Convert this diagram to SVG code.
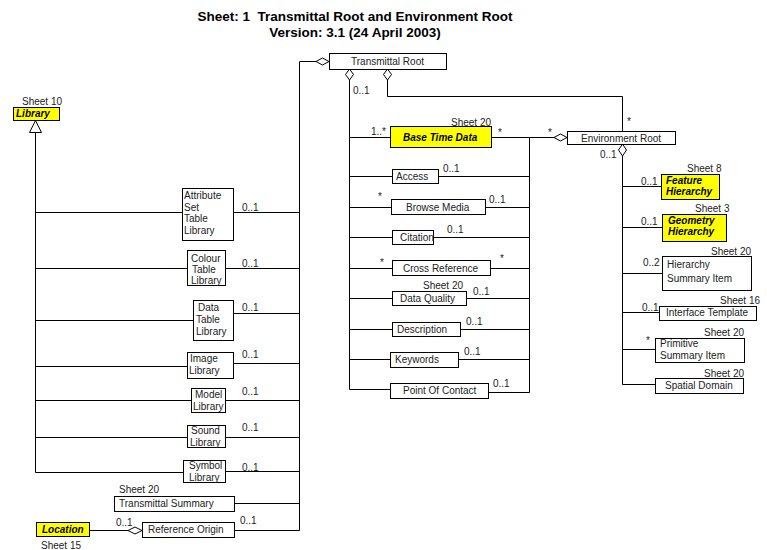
<svg xmlns="http://www.w3.org/2000/svg" width="767" height="550" viewBox="0 0 767 550">
<defs>
<style>
.bg{fill:#fff}
.box{fill:#fff;stroke:#000;stroke-width:1}
.ybox{fill:#ffff00;stroke:#000;stroke-width:1}
.ln{fill:none;stroke:#000;stroke-width:1}
.dia{fill:#fff;stroke:#000;stroke-width:1}
text{font-family:"Liberation Sans",Arial,sans-serif;font-size:10px;fill:#222}
.bi{font-weight:bold;font-style:italic;fill:#000}
.title{font-weight:bold;font-size:13.5px;fill:#000}
</style>
</defs>
<rect class="bg" x="0" y="0" width="767" height="550"/>
<g id="title">
<text class="title" x="355" y="21" text-anchor="middle" xml:space="preserve">Sheet: 1  Transmittal Root and Environment Root</text>
<text class="title" x="355" y="36.5" text-anchor="middle">Version: 3.1 (24 April 2003)</text>
</g>
<g id="connectors">
<!-- Library generalization -->
<path class="ln" d="M35.5,132 V472.5"/>
<polygon class="dia" points="35.5,120.5 41.5,132.5 29.5,132.5"/>
<path class="ln" d="M35.5,212.5 H182 M35.5,268.5 H187 M35.5,320.5 H193 M35.5,366.5 H187 M35.5,400.5 H191 M35.5,437.5 H187 M35.5,472.5 H183"/>
<!-- libraries to transmittal root -->
<path class="ln" d="M233,212.5 H299.5 M225,268.5 H299.5 M233,313.5 H299.5 M233,363.5 H299.5 M225,400.5 H299.5 M225,437.5 H299.5 M225,471.5 H299.5 M234,503.5 H299.5 M234,530.5 H299.5"/>
<path class="ln" d="M299.5,530.5 V61.5 H316"/>
<polygon class="dia" points="316,61.5 322.5,58 329,61.5 322.5,65"/>
<!-- middle composition -->
<polygon class="dia" points="349.5,69 353.5,74.5 349.5,80 345.5,74.5"/>
<path class="ln" d="M349.5,80 V389.5 H390"/>
<path class="ln" d="M349.5,137.5 H390 M349.5,176.5 H392 M349.5,207.5 H391 M349.5,237.5 H392 M349.5,268.5 H392 M349.5,298.5 H392 M349.5,329.5 H392 M349.5,359.5 H390"/>
<path class="ln" d="M492,137.5 H554"/>
<path class="ln" d="M529.5,137.5 V392.5 H489"/>
<path class="ln" d="M439,176.5 H529.5 M486,207.5 H529.5 M434,237.5 H529.5 M491,268.5 H529.5 M467,298.5 H529.5 M461,329.5 H529.5 M459,359.5 H529.5"/>
<!-- transmittal root to environment root -->
<polygon class="dia" points="387.5,69 391.5,74.5 387.5,80 383.5,74.5"/>
<path class="ln" d="M387.5,80 V96.5 H622.5 V131"/>
<polygon class="dia" points="554,137.5 560.5,134 567,137.5 560.5,141"/>
<!-- environment root composition -->
<polygon class="dia" points="622.5,144 626.5,150 622.5,156 618.5,150"/>
<path class="ln" d="M622.5,156 V384.5 H655"/>
<path class="ln" d="M622.5,186.5 H661 M622.5,227.5 H662 M622.5,273.5 H662 M622.5,312.5 H659 M622.5,349.5 H655"/>
<!-- location to reference origin -->
<path class="ln" d="M89,530.5 H128"/>
<polygon class="dia" points="128,530.5 135,527 142,530.5 135,534"/>
</g>
<g id="labels">
<text x="353" y="94">0..1</text>
<text x="371" y="135">1..*</text>
<text x="498" y="136">*</text>
<text x="548" y="136">*</text>
<text x="627" y="125">*</text>
<text x="600" y="158">0..1</text>
<text x="443" y="172">0..1</text>
<text x="378" y="200">*</text>
<text x="489" y="203">0..1</text>
<text x="447" y="233">0..1</text>
<text x="380" y="266">*</text>
<text x="500" y="262">*</text>
<text x="473" y="295">0..1</text>
<text x="466" y="325">0..1</text>
<text x="464" y="355">0..1</text>
<text x="493" y="387">0..1</text>
<text x="641" y="185">0..1</text>
<text x="641" y="225">0..1</text>
<text x="643" y="266">0..2</text>
<text x="642" y="311">0..1</text>
<text x="646" y="344">*</text>
<text x="242" y="211">0..1</text>
<text x="242" y="267">0..1</text>
<text x="242" y="311">0..1</text>
<text x="242" y="358">0..1</text>
<text x="242" y="395">0..1</text>
<text x="242" y="431">0..1</text>
<text x="242" y="471">0..1</text>
<text x="240" y="524">0..1</text>
<text x="116" y="526">0..1</text>
</g>
<g id="library">
<text x="22" y="105">Sheet 10</text>
<rect class="ybox" x="13.5" y="107.5" width="46" height="13"/>
<text class="bi" x="16" y="117">Library</text>
</g>
<g id="transmittal-root">
<rect class="box" x="329.5" y="53.5" width="117" height="16"/>
<text x="351" y="64.5">Transmittal Root</text>
</g>
<g id="base-time-data">
<text x="451" y="126">Sheet 20</text>
<rect class="ybox" x="390.5" y="126.5" width="101" height="21"/>
<text class="bi" x="403" y="141">Base Time Data</text>
</g>
<g id="access">
<rect class="box" x="392.5" y="169.5" width="46" height="14"/>
<text x="396" y="180">Access</text>
</g>
<g id="browse-media">
<rect class="box" x="391.5" y="199.5" width="94" height="15"/>
<text x="406" y="211">Browse Media</text>
</g>
<g id="citation">
<rect class="box" x="392.5" y="230.5" width="41" height="14"/>
<text x="400" y="241">Citation</text>
</g>
<g id="cross-reference">
<rect class="box" x="392.5" y="260.5" width="98" height="15"/>
<text x="403" y="272">Cross Reference</text>
</g>
<g id="data-quality">
<text x="423" y="289">Sheet 20</text>
<rect class="box" x="392.5" y="291.5" width="74" height="14"/>
<text x="400" y="302">Data Quality</text>
</g>
<g id="description">
<rect class="box" x="392.5" y="322.5" width="68" height="14"/>
<text x="397" y="333">Description</text>
</g>
<g id="keywords">
<rect class="box" x="390.5" y="352.5" width="68" height="15"/>
<text x="395" y="363">Keywords</text>
</g>
<g id="point-of-contact">
<rect class="box" x="390.5" y="383.5" width="98" height="15"/>
<text x="403" y="394">Point Of Contact</text>
</g>
<g id="environment-root">
<rect class="box" x="567.5" y="131.5" width="108" height="13"/>
<text x="581" y="142">Environment Root</text>
</g>
<g id="feature-hierarchy">
<text x="687" y="172">Sheet 8</text>
<rect class="ybox" x="661.5" y="174.5" width="58" height="25"/>
<text class="bi" x="666" y="184">Feature</text>
<text class="bi" x="666" y="195">Hierarchy</text>
</g>
<g id="geometry-hierarchy">
<text x="695" y="212">Sheet 3</text>
<rect class="ybox" x="662.5" y="214.5" width="64" height="27"/>
<text class="bi" x="668" y="224">Geometry</text>
<text class="bi" x="668" y="235">Hierarchy</text>
</g>
<g id="hierarchy-summary-item">
<text x="711" y="255">Sheet 20</text>
<rect class="box" x="662.5" y="256.5" width="89" height="34"/>
<text x="667" y="268">Hierarchy</text>
<text x="667" y="282">Summary Item</text>
</g>
<g id="interface-template">
<text x="720" y="304">Sheet 16</text>
<rect class="box" x="659.5" y="306.5" width="97" height="14"/>
<text x="666" y="316">Interface Template</text>
</g>
<g id="primitive-summary-item">
<text x="704" y="336">Sheet 20</text>
<rect class="box" x="655.5" y="338.5" width="89" height="24"/>
<text x="660" y="347">Primitive</text>
<text x="660" y="359">Summary Item</text>
</g>
<g id="spatial-domain">
<text x="704" y="377">Sheet 20</text>
<rect class="box" x="655.5" y="378.5" width="88" height="15"/>
<text x="665" y="389">Spatial Domain</text>
</g>
<g id="attribute-set-table-library">
<rect class="box" x="182.5" y="188.5" width="51" height="52"/>
<text x="184" y="199">Attribute</text>
<text x="184" y="210.5">Set</text>
<text x="184" y="222">Table</text>
<text x="184" y="233.5">Library</text>
</g>
<g id="colour-table-library">
<rect class="box" x="187.5" y="250.5" width="38" height="35"/>
<text x="191" y="262">Colour</text>
<text x="192" y="273">Table</text>
<text x="191" y="284">Library</text>
</g>
<g id="data-table-library">
<rect class="box" x="193.5" y="300.5" width="40" height="40"/>
<text x="198" y="311">Data</text>
<text x="196" y="323">Table</text>
<text x="196" y="335">Library</text>
</g>
<g id="image-library">
<rect class="box" x="187.5" y="352.5" width="46" height="26"/>
<text x="190" y="362">Image</text>
<text x="189" y="374">Library</text>
</g>
<g id="model-library">
<rect class="box" x="191.5" y="388.5" width="34" height="24"/>
<text x="195" y="398">Model</text>
<text x="193" y="410">Library</text>
</g>
<g id="sound-library">
<rect class="box" x="187.5" y="425.5" width="38" height="22"/>
<text x="191" y="434">Sound</text>
<text x="190" y="446">Library</text>
</g>
<g id="symbol-library">
<rect class="box" x="183.5" y="460.5" width="42" height="22"/>
<text x="189" y="469">Symbol</text>
<text x="189" y="481">Library</text>
</g>
<g id="transmittal-summary">
<text x="119" y="493">Sheet 20</text>
<rect class="box" x="114.5" y="496.5" width="120" height="15"/>
<text x="119" y="507">Transmittal Summary</text>
</g>
<g id="reference-origin">
<rect class="box" x="142.5" y="522.5" width="92" height="15"/>
<text x="148" y="533">Reference Origin</text>
</g>
<g id="location">
<rect class="ybox" x="36.5" y="522.5" width="53" height="14"/>
<text class="bi" x="42" y="533">Location</text>
<text x="41" y="549">Sheet 15</text>
</g>
</svg>
